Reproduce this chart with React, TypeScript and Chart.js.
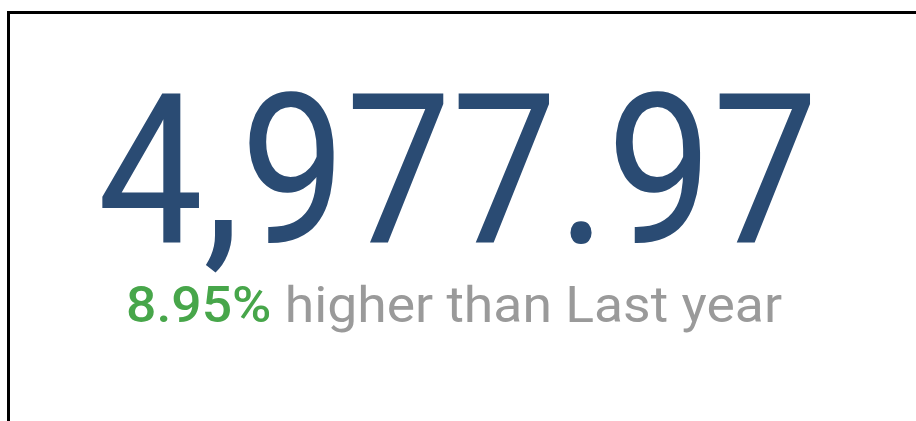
import React, { useEffect, useRef } from "react";
import { Chart, registerables } from "chart.js";

Chart.register(...registerables);

const kpiValues = [4977.97];
const changePercents = [8.95];
const comparisonLabels = ["higher than Last year"];

const fmtValue = (v: number) =>
  v.toLocaleString("en-US", { minimumFractionDigits: 2, maximumFractionDigits: 2 });

const kpiPlugin = {
  id: "kpiText",
  afterDraw(chart: any) {
    const ctx = chart.ctx as CanvasRenderingContext2D;
    const value = fmtValue(kpiValues[0]);
    const pct = changePercents[0].toFixed(2) + "%";
    const rest = " " + comparisonLabels[0];

    ctx.save();
    // big number
    ctx.font = "400 210px Roboto";
    ctx.textBaseline = "alphabetic";
    ctx.fillStyle = "#2a4b73";
    const m = ctx.measureText(value);
    const inkW = m.actualBoundingBoxLeft + m.actualBoundingBoxRight;
    const targetL = 102, targetR = 810;
    const sx = (targetR - targetL) / inkW;
    ctx.save();
    ctx.translate(targetL, 243);
    ctx.scale(sx, 1);
    ctx.fillText(value, m.actualBoundingBoxLeft, 0);
    ctx.restore();

    // subtitle
    const f1 = "500 50px Roboto";
    const f2 = "400 50px Roboto";
    ctx.font = f1;
    const m1 = ctx.measureText(pct);
    ctx.font = f2;
    const m2 = ctx.measureText(rest);
    const total = m1.width + m2.width;
    const sL = 126, sR = 782;
    const sx2 = (sR - sL) / total;
    ctx.save();
    ctx.translate(sL, 322);
    ctx.scale(sx2, 1);
    ctx.font = f1;
    ctx.fillStyle = "#47a64a";
    ctx.fillText(pct, 0, 0);
    ctx.font = f2;
    ctx.fillStyle = "#9a9a9a";
    ctx.fillText(rest, m1.width, 0);
    ctx.restore();
    ctx.restore();
  },
};

export default function App() {
  const ref = useRef<HTMLCanvasElement | null>(null);
  useEffect(() => {
    if (!ref.current) return;
    const chart = new Chart(ref.current, {
      type: "bar",
      data: { labels: [], datasets: [] },
      options: {
        animation: false,
        responsive: false,
        events: [],
        scales: { x: { display: false }, y: { display: false } },
        plugins: { legend: { display: false }, tooltip: { enabled: false }, title: { display: false } },
      },
      plugins: [kpiPlugin],
    });
    return () => chart.destroy();
  }, []);

  return (
    <div style={{ position: "fixed", left: 0, top: 0, width: 916, height: 421, overflow: "hidden", background: "#fff" }}>
      <canvas ref={ref} width={916} height={421} style={{ position: "absolute", left: 0, top: 0, width: 916, height: 421 }} />
      <div
        style={{
          position: "absolute",
          left: 7,
          top: 11,
          width: 920,
          height: 420,
          borderTop: "3px solid #000",
          borderLeft: "3px solid #000",
          boxSizing: "border-box",
        }}
      />
    </div>
  );
}
